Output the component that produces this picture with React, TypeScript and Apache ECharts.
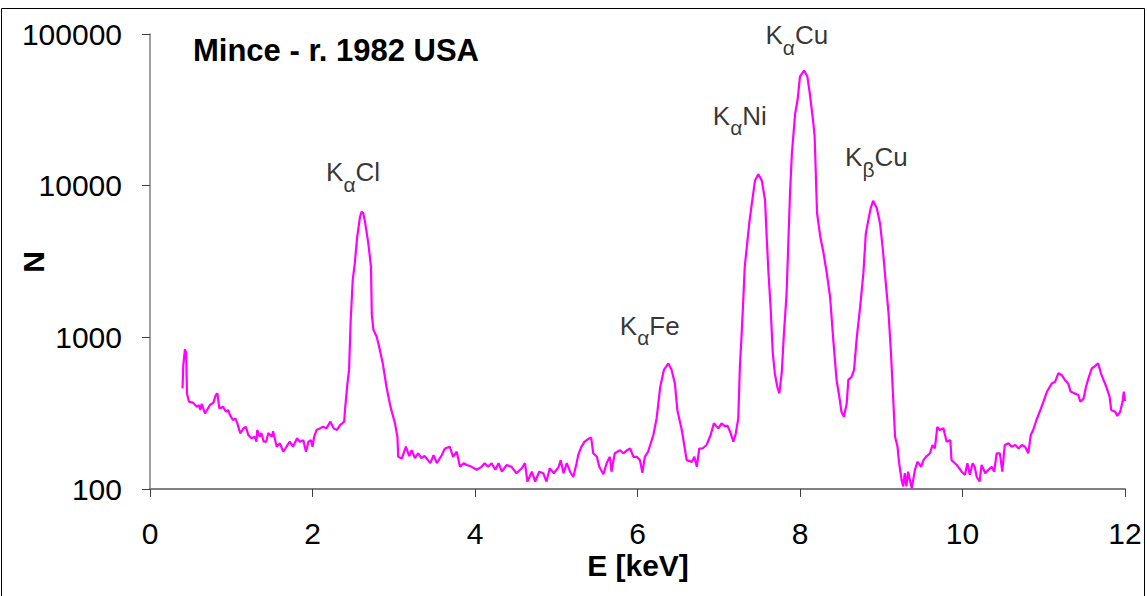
import React, { useEffect, useRef } from "react";
import * as echarts from "echarts";

const FONT = "'Liberation Sans', Arial, Helvetica, sans-serif";

const energy: number[] = [
  0.40, 0.41, 0.43, 0.445, 0.455, 0.48, 0.53, 0.575, 0.60, 0.62, 0.635, 0.677, 0.69, 0.738, 0.78, 0.81, 0.83, 0.853, 0.90, 0.935,
  0.96, 0.985, 1.02, 1.05, 1.075, 1.11, 1.15, 1.18, 1.21, 1.25, 1.29, 1.31, 1.32, 1.35, 1.37, 1.40, 1.43, 1.456, 1.50, 1.515,
  1.53, 1.56, 1.60, 1.64, 1.68, 1.72, 1.76, 1.81, 1.846, 1.887, 1.92, 1.95, 1.98, 2.00, 2.02, 2.05, 2.09, 2.13, 2.17, 2.22,
  2.26, 2.30, 2.34, 2.39, 2.40, 2.43, 2.45, 2.47, 2.495, 2.52, 2.55, 2.585, 2.605, 2.625, 2.646, 2.687, 2.72, 2.73, 2.75, 2.79,
  2.82, 2.865, 2.91, 2.96, 3.015, 3.045, 3.055, 3.10, 3.15, 3.19, 3.22, 3.26, 3.30, 3.34, 3.38, 3.45, 3.49, 3.53, 3.59, 3.63,
  3.69, 3.73, 3.775, 3.815, 3.86, 3.90, 3.96, 4.02, 4.08, 4.12, 4.16, 4.205, 4.25, 4.29, 4.33, 4.39, 4.45, 4.51, 4.575, 4.615,
  4.645, 4.70, 4.74, 4.79, 4.84, 4.88, 4.92, 4.97, 5.03, 5.055, 5.09, 5.13, 5.17, 5.21, 5.25, 5.27, 5.31, 5.35, 5.40, 5.43,
  5.455, 5.50, 5.53, 5.58, 5.62, 5.66, 5.68, 5.72, 5.785, 5.825, 5.87, 5.91, 5.95, 5.99, 6.03, 6.06, 6.09, 6.13, 6.195, 6.235,
  6.28, 6.325, 6.38, 6.42, 6.46, 6.49, 6.545, 6.605, 6.67, 6.70, 6.73, 6.76, 6.80, 6.85, 6.90, 6.94, 6.995, 7.035, 7.08, 7.105,
  7.14, 7.18, 7.21, 7.24, 7.26, 7.28, 7.30, 7.32, 7.345, 7.375, 7.405, 7.446, 7.487, 7.53, 7.57, 7.59, 7.61, 7.64, 7.665, 7.69,
  7.72, 7.745, 7.775, 7.80, 7.835, 7.877, 7.90, 7.94, 7.97, 8.00, 8.05, 8.09, 8.12, 8.16, 8.18, 8.21, 8.25, 8.29, 8.33, 8.37,
  8.41, 8.45, 8.49, 8.51, 8.54, 8.575, 8.595, 8.636, 8.665, 8.70, 8.74, 8.78, 8.81, 8.84, 8.87, 8.90, 8.945, 8.985, 9.02, 9.06,
  9.09, 9.12, 9.14, 9.17, 9.20, 9.22, 9.25, 9.27, 9.29, 9.31, 9.33, 9.375, 9.415, 9.445, 9.46, 9.49, 9.52, 9.55, 9.60, 9.63,
  9.66, 9.69, 9.72, 9.765, 9.805, 9.85, 9.865, 9.93, 9.99, 10.03, 10.06, 10.09, 10.125, 10.15, 10.175, 10.21, 10.235, 10.28, 10.32, 10.36,
  10.39, 10.42, 10.46, 10.49, 10.52, 10.565, 10.605, 10.65, 10.69, 10.73, 10.77, 10.81, 10.84, 10.87, 10.91, 10.95, 10.995, 11.04, 11.10, 11.14,
  11.18, 11.22, 11.26, 11.30, 11.33, 11.38, 11.425, 11.45, 11.49, 11.52, 11.55, 11.59, 11.63, 11.67, 11.71, 11.77, 11.81, 11.83, 11.88, 11.905,
  11.94, 11.97, 11.985, 12.0,
];

const counts: number[] = [
  461, 656, 833, 788, 427, 376, 371, 348, 358, 332, 364, 315, 323, 358, 371, 417, 427, 340, 348, 323,
  332, 307, 285, 292, 271, 233, 251, 257, 227, 216, 221, 205, 245, 221, 234, 205, 205, 234, 221, 240,
  221, 190, 200, 176, 190, 205, 190, 216, 205, 210, 176, 205, 210, 190, 221, 245, 251, 257, 251, 278,
  251, 245, 264, 278, 332, 497, 610, 1300, 2380, 3060, 4590, 6240, 6740, 6570, 5790, 4160, 2920, 1400, 1120, 1010,
  867, 673, 472, 348, 271, 221, 163, 159, 190, 165, 180, 160, 172, 160, 165, 148, 167, 148, 167, 185,
  190, 163, 176, 140, 148, 144, 140, 134, 140, 148, 140, 148, 134, 148, 130, 144, 140, 127, 137, 148,
  112, 130, 112, 130, 127, 112, 137, 127, 140, 155, 127, 148, 130, 120, 148, 167, 190, 205, 215, 218,
  172, 163, 140, 125, 148, 163, 130, 172, 180, 172, 180, 185, 163, 163, 155, 128, 163, 176, 227, 292,
  472, 610, 673, 610, 497, 332, 245, 155, 151, 163, 140, 185, 185, 195, 227, 271, 251, 271, 258, 262,
  239, 205, 233, 292, 640, 1010, 1670, 2920, 3940, 5630, 7480, 10800, 11900, 10800, 8010, 4590, 2780, 1510, 783, 580,
  472, 427, 580, 1010, 1950, 8860, 16300, 29800, 36700, 52500, 57400, 52500, 40700, 27100, 21200, 6570, 4590, 3580, 2640, 1850,
  958, 524, 386, 323, 299, 367, 524, 550, 610, 1010, 1590, 2640, 4830, 5900, 7110, 7940, 7110, 5630, 3780, 2150,
  1440, 783, 472, 221, 190, 148, 115, 104, 127, 104, 130, 101, 134, 151, 148, 140, 155, 163, 172, 195,
  185, 257, 245, 251, 205, 210, 155, 144, 130, 124, 148, 124, 148, 140, 120, 112, 144, 127, 134, 140,
  130, 172, 172, 130, 195, 200, 190, 195, 185, 195, 190, 172, 227, 245, 285, 323, 376, 439, 497, 510,
  580, 565, 524, 497, 439, 427, 417, 376, 395, 472, 536, 623, 646, 673, 565, 472, 406, 332, 323, 303,
  323, 376, 439, 380,
];

const xTicks: number[] = [0, 2, 4, 6, 8, 10, 12];
const yTicks: number[] = [100, 1000, 10000, 100000];

// peak annotations: base letter, subscript, element, anchor energy, anchor counts
const peakBase: string[] = ["K", "K", "K", "K", "K"];
const peakSub: string[] = ["α", "α", "α", "α", "β"];
const peakElem: string[] = ["Cl", "Fe", "Ni", "Cu", "Cu"];
const peakE: number[] = [2.5, 6.15, 7.26, 7.96, 8.94];
const peakN: number[] = [12300, 1190, 28800, 98400, 15450];

const titleText = "Mince - r. 1982 USA";
const xTitle = "E [keV]";
const yTitle = "N";

export default function App() {
  const ref = useRef<HTMLDivElement>(null);

  useEffect(() => {
    if (!ref.current) return;
    const chart = echarts.init(ref.current, undefined, { renderer: "svg" });

    const lineData = energy.map((e, i) => [e, counts[i]]);
    const labelData = peakE.map((e, i) => ({
      value: [e, peakN[i]],
      name: `{k|${peakBase[i]}}{s|${peakSub[i]}}{k|${peakElem[i]}}`,
    }));

    chart.setOption({
      animation: false,
      backgroundColor: "#ffffff",
      grid: { left: 150, right: 22, top: 34, bottom: 107, containLabel: false },
      xAxis: {
        type: "value",
        min: xTicks[0],
        max: xTicks[xTicks.length - 1],
        interval: 2,
        axisLine: { show: true, onZero: false, lineStyle: { color: "#808080", width: 2 } },
        axisTick: { show: true, length: 8, inside: false, lineStyle: { color: "#404040", width: 1 } },
        axisLabel: {
          fontSize: 30,
          lineHeight: 30,
          fontFamily: FONT,
          color: "#000",
          margin: 29,
          formatter: (v: number) => String(v),
        },
        splitLine: { show: false },
      },
      yAxis: {
        type: "log",
        logBase: 10,
        min: yTicks[0],
        max: yTicks[yTicks.length - 1],
        axisLine: { show: true, lineStyle: { color: "#808080", width: 1.5 } },
        axisTick: { show: true, length: 8, inside: false, lineStyle: { color: "#404040", width: 1 } },
        axisLabel: {
          fontSize: 30,
          fontFamily: FONT,
          color: "#000",
          margin: 28,
          formatter: (v: number) => String(Math.round(v)),
        },
        splitLine: { show: false },
        minorTick: { show: false },
      },
      series: [
        {
          type: "line",
          data: lineData,
          showSymbol: false,
          symbol: "none",
          smooth: false,
          lineStyle: { color: "#ff00ff", width: 2.2 },
          silent: true,
          z: 2,
        },
        {
          type: "scatter",
          data: labelData,
          symbolSize: 0.1,
          itemStyle: { color: "transparent" },
          silent: true,
          z: 3,
          label: {
            show: true,
            position: "inside",
            color: "#000",
            textBorderWidth: 0,
            textBorderColor: "transparent",
            formatter: (p: any) => p.name,
            rich: {
              k: { fontSize: 26, fontFamily: FONT, color: "#000", textBorderWidth: 0 },
              s: {
                fontSize: 21,
                fontFamily: FONT,
                color: "#000",
                textBorderWidth: 0,
                padding: [24, 0, 0, 0],
              },
            },
          },
        },
      ],
      graphic: [
        {
          type: "rect",
          shape: { x: 1.5, y: 8.5, width: 1143, height: 700 },
          style: { fill: "none", stroke: "#000", lineWidth: 1 },
          silent: true,
          z: 0,
        },
        {
          type: "text",
          x: 193,
          y: 50,
          style: {
            text: titleText,
            font: `bold 31px ${FONT}`,
            fill: "#000",
            align: "left",
            verticalAlign: "middle",
            textAlign: "left",
            textVerticalAlign: "middle",
          },
          silent: true,
        },
        {
          type: "text",
          x: 638,
          y: 565,
          style: {
            text: xTitle,
            font: `bold 30px ${FONT}`,
            lineHeight: 30,
            fill: "#000",
            align: "center",
            verticalAlign: "middle",
            textAlign: "center",
            textVerticalAlign: "middle",
          },
          silent: true,
        },
        {
          type: "text",
          x: 33,
          y: 262,
          rotation: Math.PI / 2,
          style: {
            text: yTitle,
            font: `bold 30px ${FONT}`,
            fill: "#000",
            align: "center",
            verticalAlign: "middle",
            textAlign: "center",
            textVerticalAlign: "middle",
          },
          silent: true,
        },
      ],
    });

    return () => chart.dispose();
  }, []);

  return (
    <div
      ref={ref}
      style={{ position: "absolute", left: 0, top: 0, width: 1147, height: 596, background: "#fff" }}
    />
  );
}
